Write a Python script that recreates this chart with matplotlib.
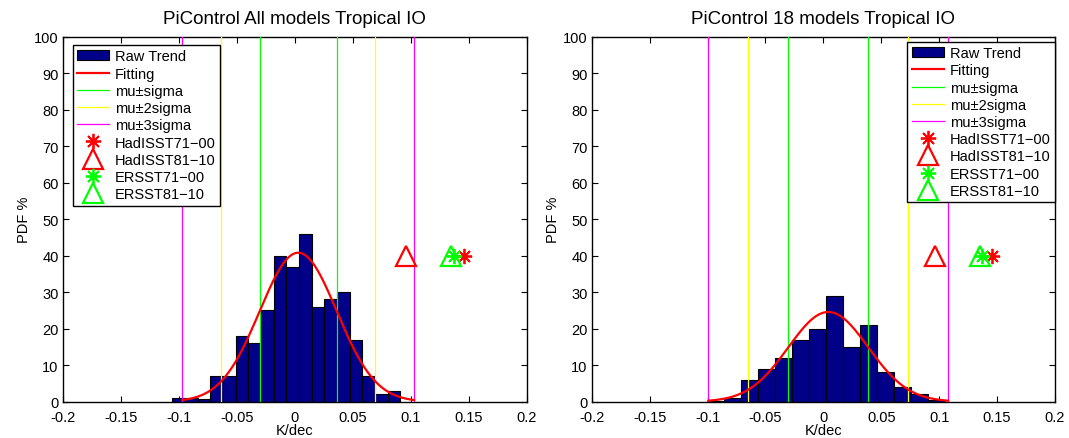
import numpy as np
import matplotlib
matplotlib.use('Agg')
import matplotlib.pyplot as plt
from matplotlib.patches import Patch
from matplotlib.lines import Line2D

plt.rcParams['font.family'] = ['Liberation Sans', 'DejaVu Sans']

# histogram of trends (left: all models, right: 18 models)
all_start = -0.1056
all_width = 0.01093
all_counts = [1, 1, 0.7, 7, 7, 18, 16, 25, 40, 37, 46, 26, 28, 30, 17, 7, 2, 3]
all_mu = 0.003
all_sigma = 0.0333

sub_start = -0.1001
sub_width = 0.01468
sub_counts = [0.3, 1, 6, 9, 12, 17, 20, 29, 15, 21, 8, 4, 2, 0.5]
sub_mu = 0.0043
sub_sigma = 0.0345

# observed trends
obs_names = ['HadISST71\u221200', 'HadISST81\u221210', 'ERSST71\u221200', 'ERSST81\u221210']
obs_x = [0.146, 0.096, 0.137, 0.135]
obs_y = [40, 40, 40, 40]

titles = ['PiControl All models Tropical IO', 'PiControl 18 models Tropical IO']
legend_loc = ['upper left', 'upper right']
legend_anchor = [(0.022, 0.977), (1.0, 0.986)]

ASTER = (8, 2, 0)
obs_style = [
    dict(marker=ASTER, color='#ff0000', ms=11, mew=1.3),
    dict(marker='^', color='#ff0000', mfc='none', ms=14, mew=1.6),
    dict(marker=ASTER, color='#00ff00', ms=11, mew=1.3),
    dict(marker='^', color='#00ff00', mfc='none', ms=14, mew=1.6),
]

fig = plt.figure(figsize=(10.69, 4.39), dpi=100)
axes = [fig.add_axes([0.0587, 0.0827, 0.434, 0.8314]),
        fig.add_axes([0.5535, 0.0827, 0.4334, 0.8314])]

sets = [(all_start, all_width, all_counts, all_mu, all_sigma),
        (sub_start, sub_width, sub_counts, sub_mu, sub_sigma)]

for i, ax in enumerate(axes):
    start, width, counts, mu, sigma = sets[i]
    counts = np.array(counts)
    lefts = start + width * np.arange(len(counts))
    ax.bar(lefts, counts, width=width, align='edge', color='#000088',
           edgecolor='black', linewidth=0.8, zorder=2)

    # normal fit scaled to the histogram
    xf = np.linspace(mu - 3 * sigma, mu + 3 * sigma, 300)
    yf = counts.sum() * width / (sigma * np.sqrt(2 * np.pi)) * np.exp(-0.5 * ((xf - mu) / sigma) ** 2)
    ax.plot(xf, yf, color='#ff0000', lw=1.6, zorder=4)

    for k, c in [(1, '#00ff00'), (2, '#ffff00'), (3, '#ff00ff')]:
        for s in (-1, 1):
            ax.axvline(mu + s * k * sigma, color=c, lw=0.9, zorder=3)

    for x, y, st in zip(obs_x, obs_y, obs_style):
        ax.plot([x], [y], linestyle='none', zorder=5, **st)

    ax.set_xlim(-0.2, 0.2)
    ax.set_ylim(0, 100)
    ax.set_xticks(np.arange(-0.2, 0.2001, 0.05))
    ax.set_xticklabels(['%g' % v if abs(v) > 1e-9 else '0'
                        for v in np.arange(-0.2, 0.2001, 0.05)])
    ax.set_yticks(np.arange(0, 101, 10))
    ax.tick_params(direction='in', top=True, right=True, length=4, width=0.8,
                   labelsize=10.5, pad=3)
    ax.tick_params(axis='x', pad=6)
    for sp in ax.spines.values():
        sp.set_linewidth(1.0)
    ax.set_title(titles[i], fontsize=13.5, pad=10)
    ax.set_xlabel('K/dec', fontsize=10.5, labelpad=-1)
    ax.set_ylabel('PDF %', fontsize=10.5, labelpad=2)

    handles = [Patch(facecolor='#000088', edgecolor='black', lw=0.8),
               Line2D([], [], color='#ff0000', lw=1.6),
               Line2D([], [], color='#00ff00', lw=0.9),
               Line2D([], [], color='#ffff00', lw=0.9),
               Line2D([], [], color='#ff00ff', lw=0.9)]
    for st in obs_style:
        handles.append(Line2D([], [], linestyle='none', **st))
    labels = ['Raw Trend', 'Fitting', 'mu\u00b1sigma', 'mu\u00b12sigma', 'mu\u00b13sigma'] + obs_names
    leg = ax.legend(handles, labels, loc=legend_loc[i], bbox_to_anchor=legend_anchor[i],
                    fontsize=10.5, numpoints=1,
                    handlelength=2.2, handletextpad=0.4, labelspacing=0.22,
                    borderpad=0.3, borderaxespad=0.0,
                    fancybox=False, framealpha=1, edgecolor='black')
    leg.get_frame().set_linewidth(1.0)
    leg.set_zorder(10)

fig.savefig('out.png', dpi=100)
